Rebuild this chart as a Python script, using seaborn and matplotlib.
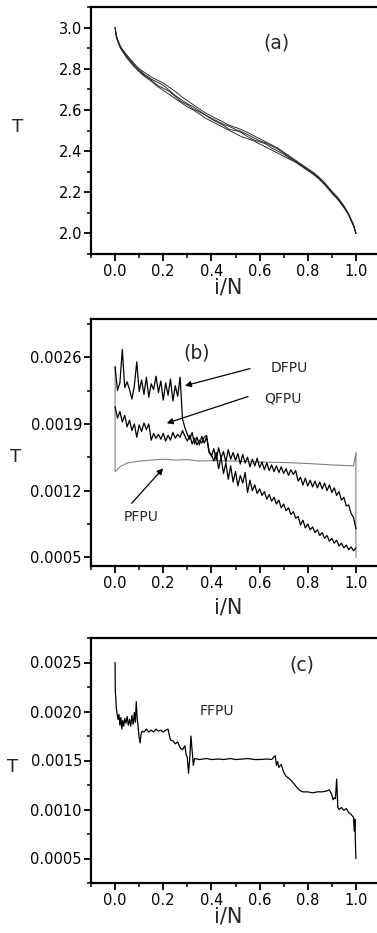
import numpy as np
import pandas as pd
import matplotlib
matplotlib.use("Agg")
import matplotlib.pyplot as plt
import seaborn as sns

# ---------------- data ----------------
x_ticks = [0.0, 0.2, 0.4, 0.6, 0.8, 1.0]
a_yticks = [2.0, 2.2, 2.4, 2.6, 2.8, 3.0]
b_yticks = [0.0005, 0.0012, 0.0019, 0.0026]
c_yticks = [0.0005, 0.0010, 0.0015, 0.0020, 0.0025]

# panel (a): several runs of T vs i/N
x_a = [0.0, 0.005, 0.01, 0.02, 0.03, 0.05, 0.075, 0.1, 0.125, 0.15,
       0.175, 0.2, 0.225, 0.25, 0.275, 0.3, 0.325, 0.35, 0.375, 0.4,
       0.425, 0.45, 0.475, 0.5, 0.525, 0.55, 0.575, 0.6, 0.625, 0.65,
       0.675, 0.7, 0.725, 0.75, 0.775, 0.8, 0.825, 0.85, 0.875, 0.9,
       0.925, 0.95, 0.97, 0.98, 0.99, 1.0]
T_a1 = [3.00, 2.96, 2.94, 2.91, 2.89, 2.86, 2.82, 2.79, 2.765, 2.745,
        2.72, 2.705, 2.69, 2.665, 2.64, 2.625, 2.605, 2.59, 2.575, 2.555,
        2.54, 2.525, 2.505, 2.50, 2.49, 2.47, 2.455, 2.445, 2.435, 2.415,
        2.40, 2.385, 2.365, 2.35, 2.33, 2.31, 2.29, 2.265, 2.235, 2.20,
        2.17, 2.13, 2.09, 2.065, 2.04, 2.00]
T_a2 = [3.00, 2.965, 2.945, 2.915, 2.895, 2.865, 2.83, 2.80, 2.78, 2.76,
        2.745, 2.73, 2.71, 2.69, 2.665, 2.645, 2.625, 2.605, 2.585, 2.57,
        2.555, 2.54, 2.525, 2.515, 2.505, 2.49, 2.475, 2.46, 2.445, 2.43,
        2.415, 2.395, 2.375, 2.355, 2.335, 2.315, 2.295, 2.27, 2.24, 2.205,
        2.175, 2.135, 2.095, 2.07, 2.045, 2.00]
T_a3 = [3.00, 2.955, 2.935, 2.905, 2.885, 2.85, 2.815, 2.785, 2.76, 2.74,
        2.715, 2.695, 2.675, 2.655, 2.635, 2.615, 2.60, 2.58, 2.56, 2.545,
        2.53, 2.515, 2.50, 2.485, 2.47, 2.46, 2.45, 2.435, 2.42, 2.405,
        2.39, 2.375, 2.36, 2.345, 2.325, 2.305, 2.285, 2.26, 2.23, 2.195,
        2.165, 2.125, 2.09, 2.06, 2.035, 2.00]
T_a4 = [3.00, 2.96, 2.94, 2.91, 2.89, 2.855, 2.825, 2.795, 2.77, 2.75,
        2.735, 2.72, 2.695, 2.67, 2.65, 2.63, 2.615, 2.595, 2.575, 2.56,
        2.545, 2.53, 2.52, 2.505, 2.495, 2.48, 2.465, 2.45, 2.44, 2.425,
        2.41, 2.39, 2.37, 2.35, 2.33, 2.31, 2.29, 2.265, 2.235, 2.20,
        2.165, 2.13, 2.09, 2.065, 2.04, 2.00]

# panel (b): sampled at i/N = 0.00, 0.01, ..., 1.00
x_b = np.linspace(0.0, 1.0, 101)
T_dfpu = [25.0e-4, 22.5e-4, 23.3e-4, 26.8e-4, 22.8e-4, 23.4e-4, 22.6e-4, 21.6e-4, 23.0e-4, 25.5e-4,
          22.4e-4, 23.6e-4, 22.1e-4, 23.9e-4, 21.8e-4, 23.2e-4, 22.6e-4, 24.0e-4, 22.3e-4, 23.5e-4,
          21.5e-4, 23.3e-4, 22.0e-4, 23.7e-4, 21.4e-4, 23.0e-4, 21.9e-4, 23.9e-4, 19.5e-4, 18.6e-4,
          17.9e-4, 17.4e-4, 18.1e-4, 16.9e-4, 17.6e-4, 16.8e-4, 17.7e-4, 17.0e-4, 17.6e-4, 16.2e-4,
          15.6e-4, 16.4e-4, 15.2e-4, 16.5e-4, 15.4e-4, 16.1e-4, 15.0e-4, 16.3e-4, 15.3e-4, 16.0e-4,
          15.2e-4, 15.9e-4, 14.8e-4, 15.8e-4, 14.9e-4, 15.5e-4, 14.5e-4, 15.3e-4, 14.6e-4, 15.4e-4,
          14.4e-4, 15.0e-4, 14.2e-4, 14.9e-4, 14.1e-4, 14.7e-4, 14.0e-4, 14.6e-4, 13.9e-4, 14.5e-4,
          13.8e-4, 14.3e-4, 13.6e-4, 14.2e-4, 13.7e-4, 14.1e-4, 13.0e-4, 13.4e-4, 12.6e-4, 13.3e-4,
          12.5e-4, 13.1e-4, 12.4e-4, 13.0e-4, 12.3e-4, 12.9e-4, 12.2e-4, 12.8e-4, 12.0e-4, 12.6e-4,
          11.8e-4, 12.3e-4, 11.5e-4, 11.9e-4, 11.0e-4, 11.3e-4, 10.4e-4, 10.5e-4, 9.6e-4, 9.2e-4,
          8.0e-4]
T_qfpu = [20.8e-4, 19.6e-4, 20.3e-4, 19.2e-4, 19.9e-4, 18.7e-4, 19.4e-4, 18.3e-4, 19.0e-4, 17.6e-4,
          18.9e-4, 18.2e-4, 19.1e-4, 18.4e-4, 19.0e-4, 17.3e-4, 18.0e-4, 17.5e-4, 17.9e-4, 17.4e-4,
          18.0e-4, 17.2e-4, 17.8e-4, 17.3e-4, 18.1e-4, 17.5e-4, 17.9e-4, 17.6e-4, 18.3e-4, 17.7e-4,
          17.2e-4, 17.8e-4, 16.9e-4, 17.5e-4, 16.8e-4, 17.3e-4, 17.0e-4, 17.6e-4, 17.8e-4, 16.0e-4,
          15.8e-4, 15.1e-4, 16.0e-4, 14.3e-4, 15.5e-4, 13.8e-4, 14.9e-4, 13.2e-4, 14.6e-4, 12.9e-4,
          14.0e-4, 12.5e-4, 13.6e-4, 12.8e-4, 13.9e-4, 11.8e-4, 13.1e-4, 12.0e-4, 12.6e-4, 11.7e-4,
          12.2e-4, 11.5e-4, 11.9e-4, 11.1e-4, 11.6e-4, 10.9e-4, 11.3e-4, 10.6e-4, 11.0e-4, 10.2e-4,
          10.6e-4, 9.9e-4, 10.2e-4, 9.5e-4, 9.8e-4, 9.1e-4, 9.3e-4, 8.4e-4, 8.9e-4, 8.1e-4,
          8.5e-4, 7.9e-4, 8.2e-4, 7.6e-4, 7.9e-4, 7.3e-4, 7.6e-4, 7.0e-4, 7.3e-4, 6.7e-4,
          7.0e-4, 6.5e-4, 6.8e-4, 6.2e-4, 6.5e-4, 6.0e-4, 6.3e-4, 5.8e-4, 6.1e-4, 5.7e-4,
          6.0e-4]
x_pfpu = [0.0, 0.0, 0.02, 0.05, 0.1, 0.15, 0.2, 0.25, 0.3, 0.35, 0.4, 0.5, 0.6,
          0.7, 0.8, 0.9, 0.99, 1.0, 1.0]
T_pfpu = [25.0e-4, 14.0e-4, 14.5e-4, 14.9e-4, 15.1e-4, 15.2e-4, 15.3e-4, 15.2e-4,
          15.25e-4, 15.1e-4, 15.15e-4, 15.1e-4, 15.0e-4, 14.95e-4, 14.85e-4,
          14.7e-4, 14.6e-4, 16.0e-4, 5.0e-4]

# panel (c)
x_ffpu = [0.000, 0.001, 0.003, 0.005, 0.008, 0.012, 0.016, 0.020, 0.024, 0.028,
          0.032, 0.036, 0.040, 0.045, 0.050, 0.055, 0.060, 0.065, 0.070, 0.075,
          0.080, 0.084, 0.088, 0.092, 0.096, 0.100, 0.104, 0.108, 0.112, 0.120,
          0.130, 0.140, 0.150, 0.160, 0.170, 0.180, 0.190, 0.200, 0.210, 0.220,
          0.225, 0.230, 0.240, 0.250, 0.260, 0.270, 0.280, 0.290, 0.295, 0.300,
          0.305, 0.310, 0.315, 0.320, 0.325, 0.330, 0.350, 0.380, 0.400, 0.430,
          0.450, 0.480, 0.500, 0.530, 0.550, 0.580, 0.600, 0.630, 0.650, 0.665,
          0.670, 0.675, 0.680, 0.690, 0.700, 0.710, 0.720, 0.730, 0.740, 0.750,
          0.760, 0.770, 0.780, 0.800, 0.820, 0.840, 0.860, 0.880, 0.890, 0.900,
          0.905, 0.910, 0.915, 0.920, 0.925, 0.930, 0.940, 0.950, 0.960, 0.970,
          0.980, 0.990, 0.993, 0.996, 0.998, 1.000]
T_ffpu = [25.0e-4, 22.0e-4, 21.4e-4, 20.4e-4, 19.8e-4, 19.2e-4, 19.7e-4, 18.6e-4, 19.4e-4, 18.2e-4,
          19.1e-4, 18.5e-4, 19.3e-4, 18.8e-4, 19.5e-4, 18.6e-4, 19.2e-4, 18.5e-4, 19.6e-4, 18.7e-4,
          19.9e-4, 18.9e-4, 21.0e-4, 19.2e-4, 18.4e-4, 17.3e-4, 16.8e-4, 17.7e-4, 18.0e-4, 17.9e-4,
          18.2e-4, 17.9e-4, 18.1e-4, 17.9e-4, 18.2e-4, 18.0e-4, 18.1e-4, 17.9e-4, 18.1e-4, 18.2e-4,
          17.6e-4, 17.1e-4, 17.0e-4, 16.7e-4, 16.9e-4, 16.3e-4, 16.1e-4, 16.5e-4, 15.6e-4, 15.3e-4,
          13.7e-4, 15.2e-4, 17.5e-4, 16.0e-4, 14.5e-4, 15.2e-4, 15.1e-4, 15.2e-4, 15.1e-4, 15.15e-4,
          15.1e-4, 15.2e-4, 15.1e-4, 15.15e-4, 15.2e-4, 15.1e-4, 15.1e-4, 15.15e-4, 15.1e-4, 15.5e-4,
          14.5e-4, 14.9e-4, 14.3e-4, 14.6e-4, 13.8e-4, 13.4e-4, 13.2e-4, 13.0e-4, 12.7e-4, 12.4e-4,
          12.1e-4, 11.9e-4, 11.8e-4, 11.8e-4, 11.7e-4, 11.8e-4, 11.8e-4, 11.9e-4, 12.0e-4, 11.5e-4,
          11.0e-4, 11.2e-4, 11.1e-4, 13.1e-4, 10.2e-4, 10.0e-4, 10.2e-4, 9.9e-4, 10.1e-4, 9.7e-4,
          9.5e-4, 9.2e-4, 7.8e-4, 9.0e-4, 6.5e-4, 5.0e-4]

# ---------------- style ----------------
sns.set_style("ticks")
plt.rcParams.update({
    "font.family": ["DejaVu Sans"],
    "axes.linewidth": 1.6,
    "xtick.major.size": 5, "ytick.major.size": 5,
    "xtick.minor.size": 3, "ytick.minor.size": 3,
    "xtick.major.width": 1.3, "ytick.major.width": 1.3,
    "xtick.minor.width": 1.1, "ytick.minor.width": 1.1,
    "xtick.direction": "out", "ytick.direction": "out",
    "xtick.major.pad": 2, "ytick.major.pad": 1.5,
    "xtick.labelsize": 10.5, "ytick.labelsize": 10.5,
    "axes.edgecolor": "black",
    "xtick.color": "black", "ytick.color": "black",
})

W, H = 377, 933
fig = plt.figure(figsize=(W / 100, H / 100), dpi=100)


def box(left, top, right, bottom):
    return [left / W, 1 - bottom / H, (right - left) / W, (bottom - top) / H]


ax_a = fig.add_axes(box(91, 7, 380, 254))
ax_b = fig.add_axes(box(91, 319, 380, 566))
ax_c = fig.add_axes(box(91, 638, 380, 883))

# ---- panel (a)
df_a = pd.concat([
    pd.DataFrame({"x": x_a, "T": T, "run": k})
    for k, T in enumerate([T_a1, T_a2, T_a3, T_a4])
])
sns.lineplot(data=df_a, x="x", y="T", units="run", estimator=None, sort=False,
             color="#222222", lw=0.65, ax=ax_a, legend=False)

# ---- panel (b)
sns.lineplot(x=x_pfpu, y=T_pfpu, sort=False, estimator=None, color="#808080",
             lw=0.8, ax=ax_b)
sns.lineplot(x=x_b, y=T_dfpu, sort=False, estimator=None, color="black",
             lw=0.9, ax=ax_b)
sns.lineplot(x=x_b, y=T_qfpu, sort=False, estimator=None, color="black",
             lw=0.9, ax=ax_b)

# ---- panel (c)
sns.lineplot(x=x_ffpu, y=T_ffpu, sort=False, estimator=None, color="black",
             lw=0.9, ax=ax_c)

# ---- axes formatting
minor_x = [-0.1, 0.1, 0.3, 0.5, 0.7, 0.9, 1.1]
settings = [
    (ax_a, (1.9, 3.1), a_yticks, [1.9, 2.1, 2.3, 2.5, 2.7, 2.9, 3.1], "{:.1f}"),
    (ax_b, (0.00041, 0.0030), b_yticks, [0.00085, 0.00155, 0.00225, 0.00295], "{:.4f}"),
    (ax_c, (0.00025, 0.00275), c_yticks, [0.00025, 0.00075, 0.00125, 0.00175, 0.00225, 0.00275], "{:.4f}"),
]
for ax, ylim, yt, ymin, fmt in settings:
    ax.set_xlim(-0.1, 1.1)
    ax.set_ylim(*ylim)
    ax.set_xticks(x_ticks)
    ax.set_xticklabels([f"{v:.1f}" for v in x_ticks])
    ax.set_xticks(minor_x, minor=True)
    ax.set_yticks(yt)
    ax.set_yticklabels([fmt.format(v) for v in yt])
    ax.set_yticks(ymin, minor=True)
    for s in ["top", "right", "left", "bottom"]:
        ax.spines[s].set_visible(True)
    ax.set_xlabel("i/N", fontsize=15)
    ax.set_ylabel("T", fontsize=13, rotation=0, va="center", ha="center")

ax_a.yaxis.set_label_coords(-0.253, 0.514)
ax_b.yaxis.set_label_coords(-0.26, 0.441)
ax_c.yaxis.set_label_coords(-0.27, 0.473)
ax_a.xaxis.set_label_coords(0.474, -0.135)
ax_b.xaxis.set_label_coords(0.474, -0.17)
ax_c.xaxis.set_label_coords(0.474, -0.135)
for ax in (ax_a, ax_b, ax_c):
    ax.xaxis.label.set_va("center")

# ---- panel letters & annotations
ax_a.text(0.671, 2.927, "(a)", fontsize=13.5, ha="center", va="center")
ax_b.text(0.339, 0.00264, "(b)", fontsize=13.5, ha="center", va="center")
ax_c.text(0.775, 0.00247, "(c)", fontsize=13.5, ha="center", va="center")

ax_b.text(0.722, 0.002482, "DFPU", fontsize=10, ha="center", va="center")
ax_b.text(0.699, 0.002168, "QFPU", fontsize=10, ha="center", va="center")
ax_b.text(0.106, 0.000919, "PFPU", fontsize=10, ha="center", va="center")
ax_c.text(0.422, 0.00201, "FFPU", fontsize=10, ha="center", va="center")

arrow = dict(arrowstyle="-|>", color="black", lw=0.9, mutation_scale=9,
             shrinkA=0, shrinkB=0)
ax_b.annotate("", xy=(0.29, 0.0023), xytext=(0.56, 0.00248), arrowprops=arrow)
ax_b.annotate("", xy=(0.2145, 0.001907), xytext=(0.552, 0.002187), arrowprops=arrow)
ax_b.annotate("", xy=(0.20, 0.001435), xytext=(0.069, 0.001068), arrowprops=arrow)

fig.savefig("out.png", dpi=100)
